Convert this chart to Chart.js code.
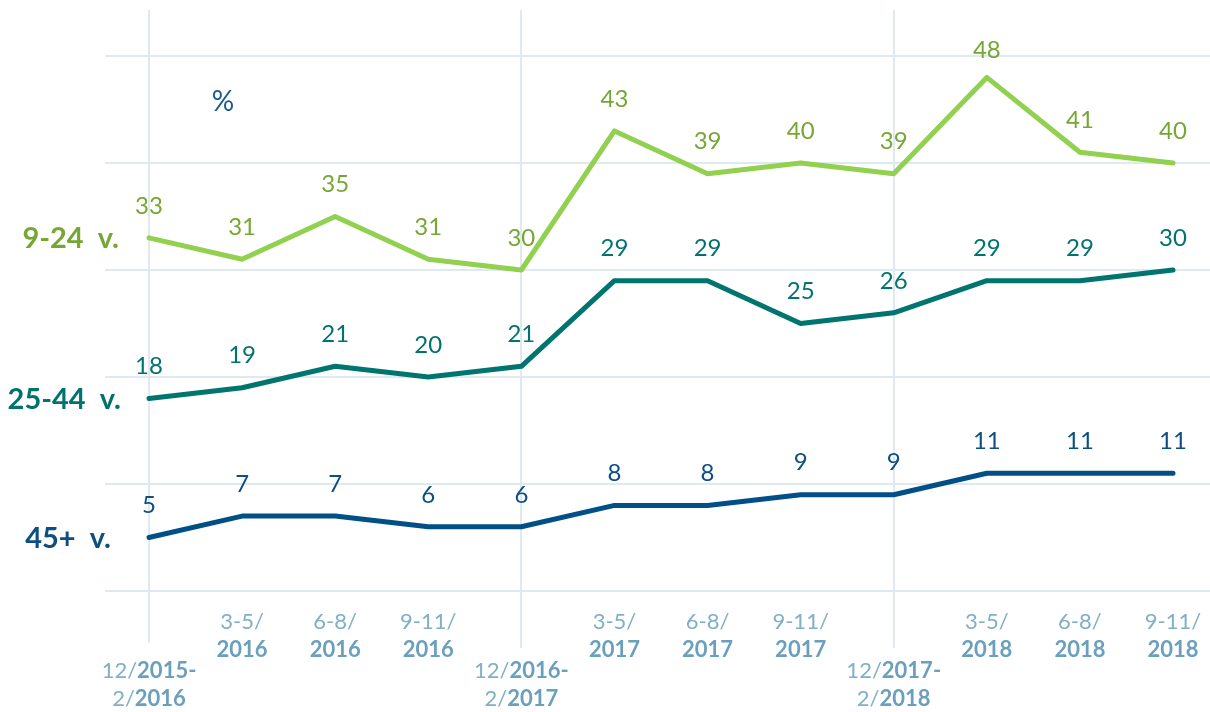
<!DOCTYPE html>
<html>
<head>
<meta charset="utf-8">
<script src="https://cdn.jsdelivr.net/npm/chart.js@4"></script>
<style>
  html, body { margin: 0; padding: 0; background: #fff; }
  #wrap { width: 1210px; height: 712px; }
</style>
</head>
<body>
<div id="wrap"><canvas id="ageChart" width="1210" height="712"></canvas></div>
<script>
// categories: two lines each, *...* = bold part
const categories = [
  ['12/*2015-*', '2/*2016*'],
  ['3-5/', '*2016*'],
  ['6-8/', '*2016*'],
  ['9-11/', '*2016*'],
  ['12/*2016-*', '2/*2017*'],
  ['3-5/', '*2017*'],
  ['6-8/', '*2017*'],
  ['9-11/', '*2017*'],
  ['12/*2017-*', '2/*2018*'],
  ['3-5/', '*2018*'],
  ['6-8/', '*2018*'],
  ['9-11/', '*2018*']
];

const young = [33, 31, 35, 31, 30, 43, 39, 40, 39, 48, 41, 40];
const middle = [18, 19, 21, 20, 21, 29, 29, 25, 26, 29, 29, 30];
const older = [5, 7, 7, 6, 6, 8, 8, 9, 9, 11, 11, 11];

const seriesNames = ['9-24  v.', '25-44  v.', '45+  v.'];
const yTicks = [0, 10, 20, 30, 40, 50];
const unitLabel = '%';

const FONT = 'Lato, "Open Sans", sans-serif';
const lineColors = ['#92d050', '#00746f', '#004f86'];
const textColors = ['#76a735', '#00736f', '#0d4f80'];
const gridColor = '#dfe9f0';

function parseSegs(s) {
  // split "12/*2015-*" -> [['12/',false],['2015-',true]]
  const out = [];
  s.split('*').forEach((p, k) => { if (p) out.push([p, k % 2 === 1]); });
  return out;
}

const decor = {
  id: 'decor',
  beforeDraw(chart) {
    const c = chart.ctx;
    c.save();
    c.fillStyle = '#fff';
    c.fillRect(0, 0, chart.width, chart.height);
    c.restore();
  },
  beforeDatasetsDraw(chart) {
    const c = chart.ctx, x = chart.scales.x, y = chart.scales.y;
    c.save();
    c.strokeStyle = gridColor;
    c.lineWidth = 2;
    yTicks.forEach(v => {
      const py = Math.round(y.getPixelForValue(v));
      c.beginPath();
      c.moveTo(105, py);
      c.lineTo(1210, py);
      c.stroke();
    });
    categories.forEach((cat, i) => {
      if (!cat[0].startsWith('12/')) return;
      const px = Math.round(x.getPixelForValue(i));
      c.beginPath();
      c.moveTo(px, 10);
      c.lineTo(px, i === 0 ? 643 : 648);
      c.stroke();
    });
    c.restore();
  },
  afterDatasetsDraw(chart) {
    const c = chart.ctx, x = chart.scales.x, y = chart.scales.y;
    const area = chart.chartArea;
    c.save();

    // value labels
    c.textAlign = 'center';
    c.textBaseline = 'middle';
    c.font = '24px ' + FONT;
    chart.data.datasets.forEach((ds, d) => {
      c.fillStyle = textColors[d];
      ds.data.forEach((v, i) => {
        const off = v === 48 ? 27 : 32;
        c.fillText(String(v), x.getPixelForValue(i), y.getPixelForValue(v) - off);
      });
    });

    // series names on the left
    c.textAlign = 'right';
    c.font = 'bold 29px ' + FONT;
    const firstVals = [young[0], middle[0], older[0]];
    const rightEdge = [119, 121, 111];
    seriesNames.forEach((n, d) => {
      c.fillStyle = textColors[d];
      c.fillText(n, rightEdge[d], y.getPixelForValue(firstVals[d]) + 1);
    });

    // unit
    c.textAlign = 'center';
    c.fillStyle = '#1d5a8a';
    c.font = '28px ' + FONT;
    c.fillText(unitLabel, 223, 102);

    // x labels, mixed weight
    c.textAlign = 'left';
    categories.forEach((cat, i) => {
      const low = cat[0].startsWith('12/');
      const cx = x.getPixelForValue(i);
      const ys = low ? [area.bottom + 80, area.bottom + 108] : [area.bottom + 31, area.bottom + 59];
      cat.forEach((line, li) => {
        const segs = parseSegs(line);
        let w = 0;
        segs.forEach(([t, b]) => {
          c.font = (b ? 'bold ' : '') + '22px ' + FONT;
          w += c.measureText(t).width;
        });
        let sx = cx - w / 2;
        segs.forEach(([t, b]) => {
          c.font = (b ? 'bold ' : '') + '22px ' + FONT;
          c.fillStyle = b ? '#6a9fbd' : '#80afc8';
          c.fillText(t, sx, ys[li]);
          sx += c.measureText(t).width;
        });
      });
    });
    c.restore();
  }
};

const labels = categories.map(c => c.join(' ').replace(/\*/g, ''));

new Chart(document.getElementById('ageChart').getContext('2d'), {
  type: 'line',
  data: {
    labels: labels,
    datasets: [
      { label: seriesNames[0], data: young, borderColor: lineColors[0] },
      { label: seriesNames[1], data: middle, borderColor: lineColors[1] },
      { label: seriesNames[2], data: older, borderColor: lineColors[2] }
    ].map(ds => Object.assign(ds, {
      borderWidth: 5,
      pointRadius: 0,
      tension: 0,
      fill: false,
      clip: false,
      borderCapStyle: 'round',
      borderJoinStyle: 'round'
    }))
  },
  options: {
    responsive: false,
    animation: false,
    events: [],
    layout: { padding: { left: 149, right: 37, top: 56, bottom: 121 } },
    plugins: { legend: { display: false }, tooltip: { enabled: false } },
    scales: {
      x: { display: false, offset: false },
      y: { display: false, min: 0, max: 50 }
    }
  },
  plugins: [decor]
});
</script>
</body>
</html>
